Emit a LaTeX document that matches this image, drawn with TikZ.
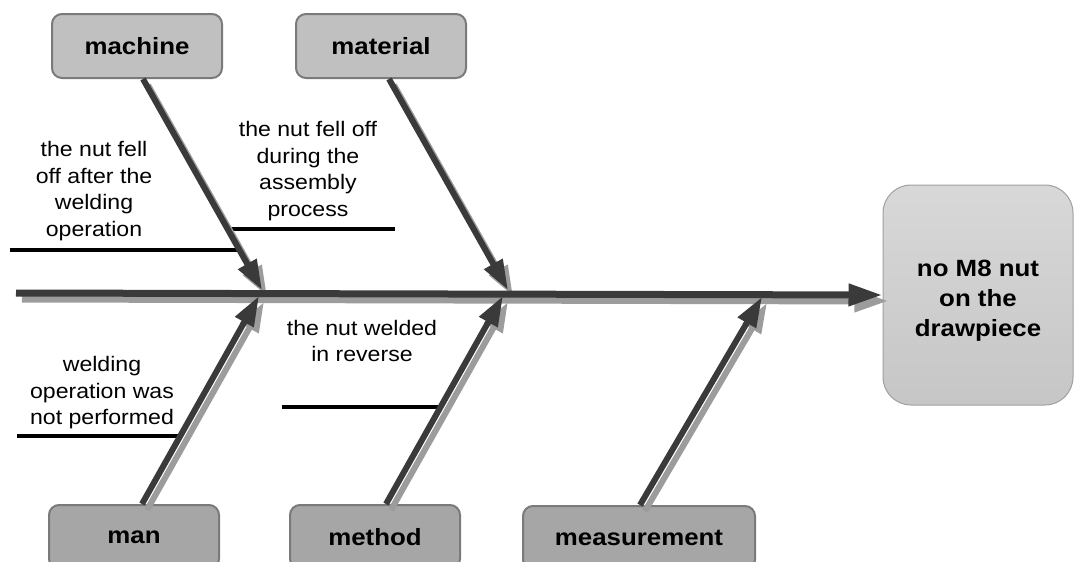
\documentclass[tikz,border=0pt]{standalone}
\usepackage{fontspec}
\setmainfont{Liberation Sans}
\usetikzlibrary{arrows.meta}
\definecolor{arrowdark}{HTML}{3A3A3A}
\definecolor{shadowgray}{HTML}{9C9C9C}
\definecolor{topfill}{HTML}{C0C0C0}
\definecolor{botfill}{HTML}{A6A6A6}
\definecolor{boxedge}{HTML}{7A7A7A}
\definecolor{headtop}{HTML}{D8D8D8}
\definecolor{headbot}{HTML}{C6C6C6}
\definecolor{headedge}{HTML}{A0A0A0}
\newcommand\hstretch[1]{\scalebox{1.1}[1]{#1}}
\begin{document}
\begin{tikzpicture}[x=1pt,y=-1pt,
  catbox/.style={draw=boxedge, line width=2pt, rounded corners=10pt, minimum width=170pt, minimum height=64pt, inner sep=0pt, font=\fontsize{23.5}{28}\selectfont\bfseries},
  topbox/.style={catbox, fill=topfill},
  botbox/.style={catbox, fill=botfill},
  causetext/.style={align=center, inner sep=0pt, font=\fontsize{21}{26.5}\selectfont},
  bone/.style={line width=6pt, arrowdark, -{Triangle[length=30pt,width=20pt]}},
  boneshadow/.style={line width=6pt, shadowgray, -{Triangle[length=30pt,width=20pt]}, transform canvas={shift={(5pt,-6pt)}}},
  spine/.style={line width=7pt, arrowdark, -{Triangle[length=34pt,width=21pt]}},
  spineshadow/.style={line width=7pt, shadowgray, -{Triangle[length=34pt,width=21pt]}, transform canvas={shift={(6pt,-6pt)}}},
  subline/.style={line width=4pt, black},
]
\clip (0,0) rectangle (1074,562);

% category boxes
\node[topbox] (mach) at (137,46) {\hstretch{machine}};
\node[topbox] (mat) at (381,46) {\hstretch{material}};
\node[botbox] (man) at (134,537) {\hstretch{man}};
\node[botbox] (meth) at (375,537) {\hstretch{method}};
\node[botbox, minimum width=232pt] (meas) at (639,538) {\hstretch{measurement}};

% head
\node[draw=headedge, line width=1pt, rounded corners=28pt, top color=headtop, bottom color=headbot, minimum width=190pt, minimum height=220pt] (head) at (978,295) {};
\node[align=center, inner sep=0pt, font=\fontsize{23.5}{30}\selectfont\bfseries] (headtext) at (978,301) {\hstretch{no M8 nut}\\\hstretch{on the}\\\hstretch{drawpiece}};

% spine
\coordinate (tail) at (16,293);
\coordinate (j1) at (262,290);
\coordinate (j2) at (508,290);
\coordinate (k1) at (259,296);
\coordinate (k2) at (503,296);
\coordinate (k3) at (762,297);

% cause texts
\node[causetext] (t1) at (94,191) {\hstretch{the nut fell}\\\hstretch{off after the}\\\hstretch{welding}\\\hstretch{operation}};
\node[causetext] (t2) at (308,171) {\hstretch{the nut fell off}\\\hstretch{during the}\\\hstretch{assembly}\\\hstretch{process}};
\node[causetext] (t3) at (102,393) {\hstretch{welding}\\\hstretch{operation was}\\\hstretch{not performed}};
\node[causetext] (t4) at (362,341) {\hstretch{the nut welded}\\\hstretch{in reverse}};

% sub-cause lines
\coordinate (s1a) at (10,250);  \coordinate (s1b) at (239,250);
\coordinate (s2a) at (228,229); \coordinate (s2b) at (395,229);
\coordinate (s3a) at (17,436);  \coordinate (s3b) at (178,436);
\coordinate (s4a) at (282,407); \coordinate (s4b) at (441,407);
\draw[subline] (s1a) -- (s1b);
\draw[subline] (s2a) -- (s2b);
\draw[subline] (s3a) -- (s3b);
\draw[subline] (s4a) -- (s4b);

% shadows
\draw[spineshadow] (tail) -- (head.west);
\draw[boneshadow] ([xshift=6pt]mach.south) -- (j1);
\draw[boneshadow] ([xshift=8pt]mat.south) -- (j2);
\draw[boneshadow] ([xshift=8pt]man.north) -- (k1);
\draw[boneshadow] ([xshift=11pt]meth.north) -- (k2);
\draw[boneshadow] ([xshift=1pt]meas.north) -- (k3);

% bones
\draw[spine] (tail) -- (head.west);
\draw[bone] ([xshift=6pt]mach.south) -- (j1);
\draw[bone] ([xshift=8pt]mat.south) -- (j2);
\draw[bone] ([xshift=8pt]man.north) -- (k1);
\draw[bone] ([xshift=11pt]meth.north) -- (k2);
\draw[bone] ([xshift=1pt]meas.north) -- (k3);
\end{tikzpicture}
\end{document}
